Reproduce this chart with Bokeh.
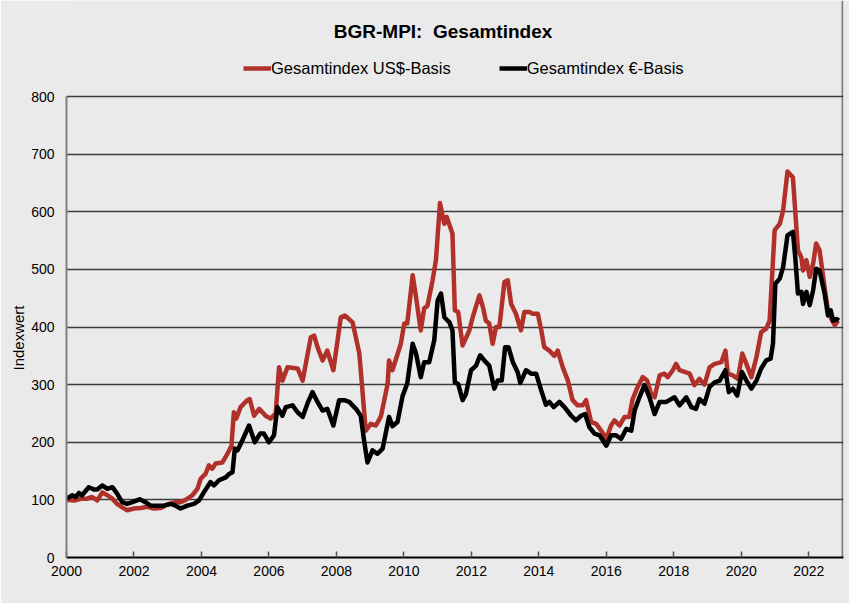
from bokeh.plotting import figure
from bokeh.models import Range1d, FixedTicker, Legend, LegendItem, Label, Title, ColumnDataSource
from bokeh.embed import file_html
from bokeh.resources import INLINE

# ---- data ----
usd_dates = [2000.00, 2000.22, 2000.42, 2000.61, 2000.76, 2000.91, 2001.06, 2001.21, 2001.36, 2001.50,
             2001.65, 2001.80, 2002.00, 2002.20, 2002.39, 2002.59, 2002.79, 2002.99, 2003.23, 2003.38,
             2003.53, 2003.73, 2003.88, 2003.98, 2004.12, 2004.22, 2004.32, 2004.42, 2004.62, 2004.77,
             2004.89, 2004.96, 2005.03, 2005.16, 2005.36, 2005.43, 2005.56, 2005.71, 2005.90, 2006.05,
             2006.20, 2006.30, 2006.40, 2006.55, 2006.85, 2007.00, 2007.24, 2007.34, 2007.44, 2007.59,
             2007.73, 2007.91, 2008.13, 2008.25, 2008.48, 2008.68, 2008.87, 2009.02, 2009.17, 2009.32,
             2009.52, 2009.56, 2009.66, 2009.91, 2010.01, 2010.10, 2010.26, 2010.36, 2010.50, 2010.60,
             2010.70, 2010.85, 2010.95, 2011.07, 2011.20, 2011.27, 2011.44, 2011.51, 2011.61, 2011.74,
             2011.94, 2012.04, 2012.24, 2012.34, 2012.43, 2012.53, 2012.63, 2012.73, 2012.83, 2012.98,
             2013.08, 2013.18, 2013.32, 2013.47, 2013.57, 2013.72, 2013.82, 2013.97, 2014.07, 2014.16,
             2014.31, 2014.46, 2014.56, 2014.71, 2014.86, 2015.00, 2015.15, 2015.30, 2015.40, 2015.55,
             2015.70, 2015.85, 2016.00, 2016.14, 2016.24, 2016.39, 2016.54, 2016.68, 2016.78, 2016.93,
             2017.08, 2017.21, 2017.33, 2017.43, 2017.58, 2017.72, 2017.82, 2017.97, 2018.07, 2018.17,
             2018.32, 2018.47, 2018.61, 2018.76, 2018.91, 2019.06, 2019.21, 2019.41, 2019.53, 2019.60,
             2019.75, 2019.90, 2020.03, 2020.15, 2020.30, 2020.45, 2020.59, 2020.74, 2020.84, 2020.99,
             2021.14, 2021.24, 2021.37, 2021.53, 2021.68, 2021.78, 2021.83, 2021.93, 2022.03, 2022.13,
             2022.22, 2022.32, 2022.47, 2022.57, 2022.67, 2022.77, 2022.87]
usd_values = [100, 99, 102, 102, 105, 99, 113, 108, 102, 93,
              87, 82, 85, 86, 88, 85, 86, 92, 96, 96,
              100, 108, 119, 137, 145, 160, 154, 163, 165, 180,
              194, 252, 241, 261, 273, 275, 246, 258, 246, 241,
              250, 330, 307, 330, 328, 307, 382, 385, 365, 342,
              359, 325, 417, 420, 408, 354, 220, 232, 229, 245,
              302, 342, 325, 371, 406, 406, 490, 452, 394, 432,
              437, 481, 516, 615, 579, 591, 562, 429, 426, 368,
              394, 417, 455, 435, 411, 406, 371, 400, 400, 478,
              481, 440, 423, 394, 426, 426, 423, 423, 395, 365,
              359, 350, 359, 330, 307, 273, 264, 264, 273, 235,
              232, 220, 206, 229, 238, 229, 244, 244, 275, 296,
              313, 307, 284, 278, 316, 319, 313, 325, 336, 325,
              322, 319, 299, 310, 300, 330, 336, 339, 359, 319,
              316, 310, 354, 336, 313, 348, 391, 397, 411, 568,
              579, 602, 670, 660, 533, 521, 498, 516, 487, 510,
              545, 533, 469, 429, 414, 403, 411]

eur_dates = [2000.00, 2000.17, 2000.27, 2000.37, 2000.46, 2000.66, 2000.81, 2000.91, 2001.06, 2001.21,
             2001.36, 2001.50, 2001.65, 2001.80, 2001.95, 2002.17, 2002.34, 2002.49, 2002.69, 2002.89,
             2003.09, 2003.23, 2003.38, 2003.58, 2003.78, 2003.93, 2004.07, 2004.27, 2004.37, 2004.52,
             2004.72, 2004.82, 2004.92, 2004.99, 2005.07, 2005.21, 2005.41, 2005.58, 2005.74, 2005.85,
             2006.00, 2006.15, 2006.25, 2006.40, 2006.50, 2006.70, 2006.85, 2007.00, 2007.14, 2007.29,
             2007.44, 2007.59, 2007.73, 2007.91, 2008.08, 2008.23, 2008.38, 2008.58, 2008.72, 2008.82,
             2008.92, 2009.07, 2009.22, 2009.37, 2009.56, 2009.66, 2009.81, 2009.96, 2010.10, 2010.26,
             2010.36, 2010.50, 2010.60, 2010.75, 2010.90, 2011.00, 2011.10, 2011.20, 2011.35, 2011.44,
             2011.51, 2011.61, 2011.74, 2011.84, 2011.99, 2012.14, 2012.26, 2012.38, 2012.53, 2012.68,
             2012.78, 2012.90, 2013.00, 2013.10, 2013.23, 2013.37, 2013.45, 2013.62, 2013.77, 2013.92,
             2014.07, 2014.21, 2014.31, 2014.44, 2014.61, 2014.76, 2014.96, 2015.10, 2015.25, 2015.37,
             2015.50, 2015.65, 2015.80, 2016.00, 2016.14, 2016.29, 2016.44, 2016.59, 2016.74, 2016.84,
             2016.98, 2017.13, 2017.28, 2017.43, 2017.58, 2017.78, 2018.02, 2018.17, 2018.37, 2018.52,
             2018.66, 2018.76, 2018.91, 2019.06, 2019.21, 2019.36, 2019.53, 2019.63, 2019.75, 2019.88,
             2020.02, 2020.15, 2020.30, 2020.45, 2020.59, 2020.74, 2020.87, 2020.94, 2021.01, 2021.14,
             2021.24, 2021.37, 2021.53, 2021.60, 2021.68, 2021.78, 2021.83, 2021.93, 2022.03, 2022.13,
             2022.22, 2022.32, 2022.47, 2022.57, 2022.65, 2022.72, 2022.82, 2022.89]
eur_values = [102, 108, 105, 112, 108, 122, 118, 118, 125, 119,
              122, 111, 96, 93, 96, 101, 96, 90, 90, 90,
              93, 90, 85, 90, 93, 99, 113, 131, 125, 134,
              139, 145, 148, 189, 186, 203, 229, 200, 215, 215,
              200, 212, 261, 246, 261, 264, 252, 244, 267, 287,
              270, 255, 258, 229, 273, 273, 270, 258, 246, 203,
              165, 186, 180, 189, 244, 228, 235, 280, 302, 371,
              354, 313, 339, 339, 377, 446, 458, 417, 408, 394,
              304, 301, 273, 284, 325, 333, 351, 342, 333, 293,
              307, 307, 365, 365, 339, 322, 303, 325, 319, 319,
              290, 265, 270, 261, 270, 261, 246, 238, 246, 249,
              226, 215, 212, 194, 212, 212, 206, 223, 220, 255,
              278, 299, 278, 249, 270, 270, 278, 264, 278, 261,
              258, 275, 267, 296, 304, 307, 325, 287, 293, 281,
              322, 307, 293, 307, 328, 342, 345, 371, 475, 484,
              504, 559, 565, 521, 458, 461, 440, 461, 438, 464,
              501, 498, 458, 420, 429, 411, 414, 411]

year_ticks = [2000, 2002, 2004, 2006, 2008, 2010, 2012, 2014, 2016, 2018, 2020, 2022]
value_ticks = [0, 100, 200, 300, 400, 500, 600, 700, 800]

title_text = "BGR-MPI:\u00a0 Gesamtindex"
usd_label = "Gesamtindex US$-Basis"
eur_label = "Gesamtindex €-Basis"
y_label = "Indexwert"

BG = "#eaeaea"
FONT = "Liberation Sans"

X_START, X_END = 2000, 2023
Y_MAX = 800
Y_TOP = 966.6      # frame extends above the plot box so the header can sit inside it
title_x, title_y = 2011.16, 913

p = figure(width=849, height=603, output_backend="svg", toolbar_location=None,
           x_range=Range1d(X_START, X_END + 0.03), y_range=Range1d(0, Y_TOP),
           min_border_left=66, min_border_right=6, min_border_top=0, min_border_bottom=46,
           background_fill_color=BG, border_fill_color=BG)

p.outline_line_color = None

# horizontal grid (incl. top edge of the plot box at 800)
p.ygrid.ticker = FixedTicker(ticks=value_ticks)
p.ygrid.grid_line_color = "#3c3c3c"
p.ygrid.grid_line_width = 1.3

# right edge of the plot box
p.xgrid.ticker = FixedTicker(ticks=[X_END])
p.xgrid.bounds = (0, Y_MAX)
p.xgrid.grid_line_color = "#808080"
p.xgrid.grid_line_width = 2

xa = p.xaxis[0]
xa.ticker = FixedTicker(ticks=year_ticks)
xa.axis_line_color = "#000000"
xa.axis_line_width = 2
xa.major_tick_in = 6
xa.major_tick_out = 0
xa.major_tick_line_color = "#505050"
xa.major_tick_line_width = 1.5
xa.minor_tick_line_color = None
xa.major_label_standoff = 8
xa.major_label_text_font = FONT
xa.major_label_text_font_size = "14px"
xa.major_label_text_color = "#000000"

ya = p.yaxis[0]
ya.ticker = FixedTicker(ticks=value_ticks)
ya.bounds = (0, Y_MAX)
ya.axis_line_color = "#808080"
ya.axis_line_width = 2
ya.major_tick_in = 0
ya.major_tick_out = 0
ya.minor_tick_line_color = None
ya.major_label_standoff = 12
ya.major_label_text_font = FONT
ya.major_label_text_font_size = "14px"
ya.major_label_text_color = "#000000"

# y axis title, placed alongside the 0..800 box
ytitle = Title(text=y_label, align="left", offset=187, standoff=4,
               text_font=FONT, text_font_size="15px", text_font_style="normal", text_color="#000000")
p.add_layout(ytitle, "left")

usd_src = ColumnDataSource(dict(x=usd_dates, y=usd_values))
eur_src = ColumnDataSource(dict(x=eur_dates, y=eur_values))

r_usd = p.line("x", "y", source=usd_src, line_color="#b1302a", line_width=4.5, line_join="round")
r_eur = p.line("x", "y", source=eur_src, line_color="#000000", line_width=4.5, line_join="round")

legend = Legend(items=[LegendItem(label=usd_label, renderers=[r_usd]),
                       LegendItem(label=eur_label, renderers=[r_eur])],
                orientation="horizontal", location=(177, 479),
                glyph_width=28, glyph_height=20, label_height=20, label_standoff=0,
                spacing=48, padding=0, margin=0,
                border_line_color=None, background_fill_alpha=0,
                label_text_font=FONT, label_text_font_size="16.5px", label_text_color="#000000")
p.add_layout(legend, "center")

title = Label(x=title_x, y=title_y, text=title_text, text_align="center", text_baseline="middle",
              text_font=FONT, text_font_size="19px", text_font_style="bold", text_color="#000000")
p.add_layout(title)

open("out.html", "w").write(file_html(p, INLINE))
